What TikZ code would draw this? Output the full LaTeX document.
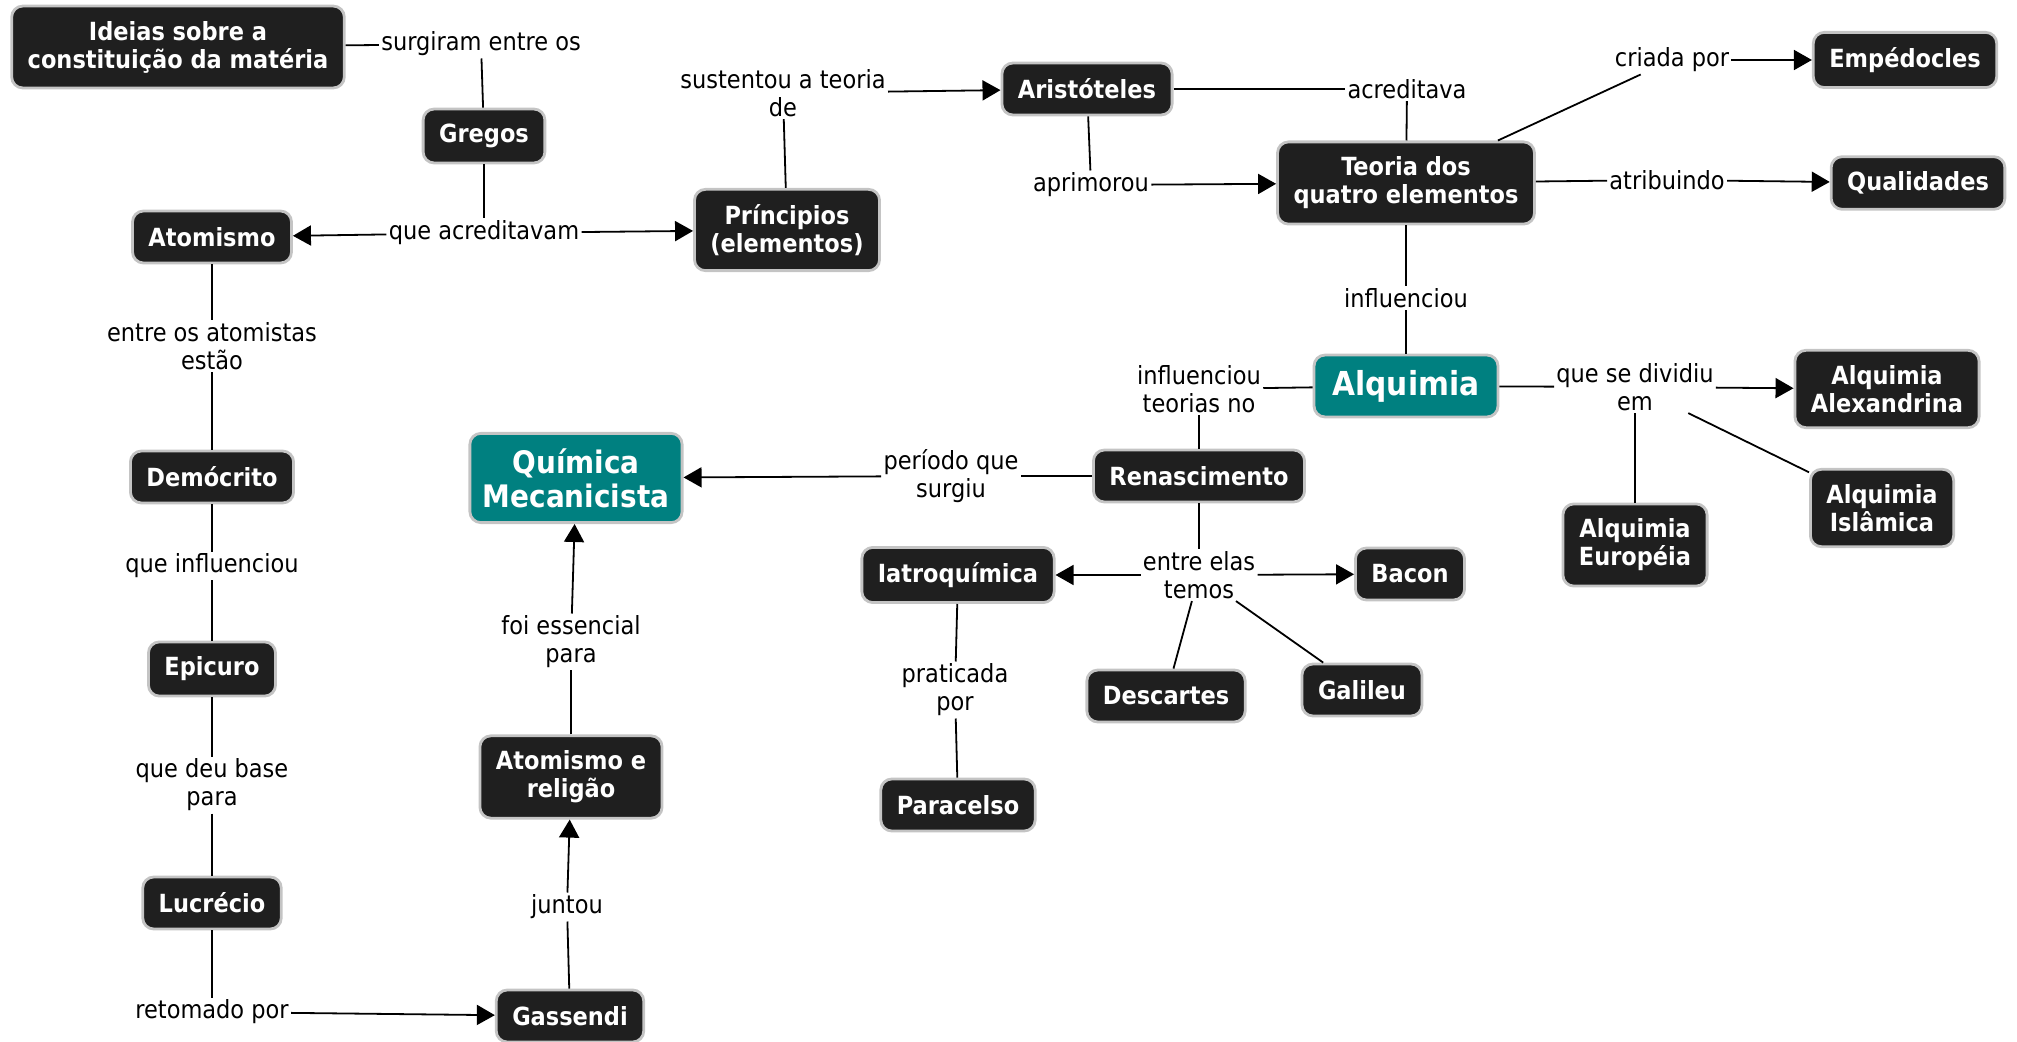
\documentclass[tikz,border=0pt]{standalone}
\usepackage{fontspec}
\setmainfont{DejaVu Sans Condensed}[BoldFont={DejaVu Sans Condensed Bold}]
\usetikzlibrary{arrows.meta}
\definecolor{fundo}{RGB}{31,31,31}
\definecolor{verdeagua}{RGB}{0,128,128}
\definecolor{borda}{RGB}{196,196,196}

\begin{document}
\begin{tikzpicture}[
  x=0.5pt, y=-0.5pt,
  conceito/.style={draw=borda, line width=1.4pt, fill=fundo, rounded corners=5.5pt,
    text=white, font=\bfseries\fontsize{12.5}{14}\selectfont, align=center,
    inner xsep=8pt, inner ysep=7.5pt, minimum height=26pt},
  central/.style={conceito, fill=verdeagua, font=\bfseries\fontsize{15.5}{17}\selectfont},
  frase/.style={font=\fontsize{12.5}{14}\selectfont, align=center, inner sep=1pt},
  liga/.style={line width=0.9pt},
  seta/.style={liga, -{Triangle[length=9pt,width=10pt]}},
]
  \useasboundingbox (0,0) rectangle (2017,1042);

  \node[conceito] (ideias) at (178,47) {Ideias sobre a\\constituição da matéria};
  \node[conceito] (gregos) at (484,136) {Gregos};
  \node[conceito] (atomismo) at (212,237) {Atomismo};
  \node[conceito] (principios) at (787,230) {Príncipios\\(elementos)};
  \node[conceito] (aristoteles) at (1087,89) {Aristóteles};
  \node[conceito] (teoria) at (1406,183) {Teoria dos\\quatro elementos};
  \node[conceito] (empedocles) at (1905,60) {Empédocles};
  \node[conceito] (qualidades) at (1918,183) {Qualidades};
  \node[central, minimum width=92pt, font=\bfseries\fontsize{16.5}{18}\selectfont] (alquimia) at (1406,386) {Alquimia};
  \node[conceito] (alexandrina) at (1887,389) {Alquimia\\Alexandrina};
  \node[conceito] (islamica) at (1882,508) {Alquimia\\Islâmica};
  \node[conceito] (europeia) at (1635,545) {Alquimia\\Européia};
  \node[conceito] (renascimento) at (1199,476) {Renascimento};
  \node[central, inner xsep=6.5pt] (quimica) at (576,478) {Química\\Mecanicista};
  \node[conceito] (democrito) at (212,477) {Demócrito};
  \node[conceito] (epicuro) at (212,669) {Epicuro};
  \node[conceito] (lucrecio) at (212,903) {Lucrécio};
  \node[conceito] (gassendi) at (570,1016) {Gassendi};
  \node[conceito] (religiao) at (571,777) {Atomismo e\\religão};
  \node[conceito] (iatroquimica) at (958,575) {Iatroquímica};
  \node[conceito] (bacon) at (1410,574) {Bacon};
  \node[conceito] (descartes) at (1166,696) {Descartes};
  \node[conceito] (galileu) at (1362,690) {Galileu};
  \node[conceito] (paracelso) at (958,805) {Paracelso};

  \node[frase] (surgiram) at (481,44) {surgiram entre os};
  \node[frase] (acreditavam) at (484,233) {que acreditavam};
  \node[frase] (sustentou) at (783,93) {sustentou a teoria\\de};
  \node[frase] (acreditava) at (1407,89) {acreditava};
  \node[frase] (aprimorou) at (1091,185) {aprimorou};
  \node[frase] (criada) at (1672,60) {criada por};
  \node[frase] (atribuindo) at (1667,180) {atribuindo};
  \node[frase] (influenciou) at (1406,298) {influenciou};
  \node[frase] (teorias) at (1199,389) {influenciou\\teorias no};
  \node[frase] (dividiu) at (1635,387) {que se dividiu\\em};
  \node[frase] (periodo) at (951,476) {período que\\surgiu};
  \node[frase] (entre) at (1199,575) {entre elas\\temos};
  \node[frase] (praticada) at (955,690) {praticada\\por};
  \node[frase] (atomistas) at (212,346) {entre os atomistas\\estão};
  \node[frase] (influenciou2) at (212,566) {que influenciou};
  \node[frase] (base) at (212,785) {que deu base\\para};
  \node[frase] (retomado) at (212,1012) {retomado por};
  \node[frase] (juntou) at (567,907) {juntou};
  \node[frase] (essencial) at (571,642) {foi essencial\\para};

  \draw[liga] (ideias) -- (surgiram);
  \draw[liga] (surgiram) -- (gregos);
  \draw[liga] (gregos) -- (acreditavam);
  \draw[seta] (acreditavam) -- (atomismo);
  \draw[seta] (acreditavam) -- (principios);
  \draw[liga] (principios) -- (sustentou);
  \draw[seta] (sustentou) -- (aristoteles);
  \draw[liga] (aristoteles) -- (acreditava);
  \draw[liga] (acreditava) -- (teoria);
  \draw[liga] (aristoteles) -- (aprimorou);
  \draw[seta] (aprimorou) -- (teoria);
  \draw[liga] (teoria) -- (criada);
  \draw[seta] (criada) -- (empedocles);
  \draw[liga] (teoria) -- (atribuindo);
  \draw[seta] (atribuindo) -- (qualidades);
  \draw[liga] (teoria) -- (influenciou);
  \draw[liga] (influenciou) -- (alquimia);
  \draw[liga] (alquimia) -- (teorias);
  \draw[liga] (teorias) -- (renascimento);
  \draw[liga] (alquimia) -- (dividiu);
  \draw[seta] (dividiu) -- (alexandrina);
  \draw[liga] (dividiu) -- (islamica);
  \draw[liga] (dividiu) -- (europeia);
  \draw[liga] (renascimento) -- (periodo);
  \draw[seta] (periodo) -- (quimica);
  \draw[liga] (renascimento) -- (entre);
  \draw[seta] (entre) -- (iatroquimica);
  \draw[seta] (entre) -- (bacon);
  \draw[liga] (entre) -- (descartes);
  \draw[liga] (entre) -- (galileu);
  \draw[liga] (iatroquimica) -- (praticada);
  \draw[liga] (praticada) -- (paracelso);
  \draw[liga] (atomismo) -- (atomistas);
  \draw[liga] (atomistas) -- (democrito);
  \draw[liga] (democrito) -- (influenciou2);
  \draw[liga] (influenciou2) -- (epicuro);
  \draw[liga] (epicuro) -- (base);
  \draw[liga] (base) -- (lucrecio);
  \draw[liga] (lucrecio) -- (retomado);
  \draw[seta] (retomado) -- (gassendi);
  \draw[liga] (gassendi) -- (juntou);
  \draw[seta] (juntou) -- (religiao);
  \draw[liga] (religiao) -- (essencial);
  \draw[seta] (essencial) -- (quimica);
\end{tikzpicture}
\end{document}
